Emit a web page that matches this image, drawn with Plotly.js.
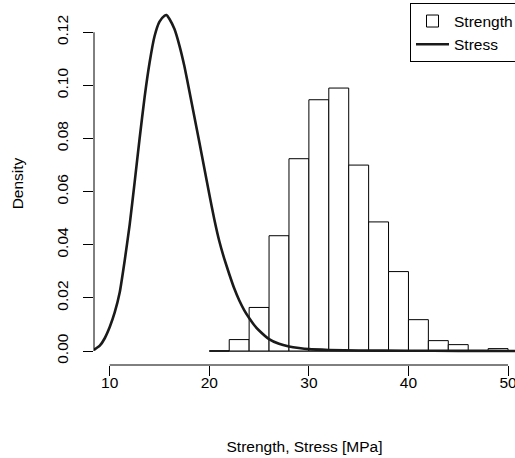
<!DOCTYPE html>
<html>
<head>
<meta charset="utf-8">
<script src="https://cdn.plot.ly/plotly-3.0.1.min.js"></script>
<style>html,body{margin:0;padding:0;background:#fff;}#chart{width:515px;height:458px;}</style>
</head>
<body>
<div id="chart"></div>
<script>
// Histogram of strength: bin edges and densities
const breaks = [20, 22, 24, 26, 28, 30, 32, 34, 36, 38, 40, 42, 44, 46, 48, 50];
const strengthDensity = [0.0, 0.0043, 0.0164, 0.0434, 0.0724, 0.0946, 0.0990, 0.0700, 0.0486, 0.0299, 0.0118, 0.0039, 0.0024, 0.0, 0.0009];

// Stress density curve
const stressX = [8.42, 9, 9.5, 10, 10.5, 11, 11.5, 12, 12.5, 13, 13.5, 14, 14.5, 15, 15.5, 15.7, 16, 16.5, 17, 17.5, 18, 18.5, 19, 19.5, 20, 20.5, 21, 21.5, 22, 22.5, 23, 23.5, 24, 24.5, 25, 26, 27, 28, 29, 30, 32, 35, 40, 45, 50, 52];
const stressY = [0.0004, 0.0020, 0.0048, 0.0090, 0.0145, 0.0220, 0.0340, 0.0475, 0.0635, 0.0800, 0.0955, 0.1085, 0.1185, 0.1240, 0.1262, 0.1265, 0.1250, 0.1212, 0.1150, 0.1072, 0.0978, 0.0882, 0.0786, 0.0688, 0.0590, 0.0496, 0.0414, 0.0348, 0.0290, 0.0236, 0.0191, 0.0154, 0.0124, 0.0098, 0.0077, 0.0045, 0.0027, 0.0017, 0.0011, 0.0007, 0.0004, 0.0002, 0.0001, 0.00005, 0.00002, 0.0];

const xTicks = [10, 20, 30, 40, 50];
const yTicks = [0.00, 0.02, 0.04, 0.06, 0.08, 0.10, 0.12];

const binMid = strengthDensity.map((_, i) => (breaks[i] + breaks[i + 1]) / 2);
const binWidth = strengthDensity.map((_, i) => breaks[i + 1] - breaks[i]);

const FONT = 'Liberation Sans, Arial, Helvetica, sans-serif';

const traces = [
  {
    type: 'bar', name: 'Strength', x: binMid, y: strengthDensity, width: binWidth,
    marker: {color: '#ffffff', line: {color: '#000000', width: 1}},
    hoverinfo: 'skip'
  },
  {
    type: 'scatter', mode: 'lines', name: 'Stress', x: stressX, y: stressY,
    line: {color: '#1a1a1a', width: 2.6, shape: 'spline', smoothing: 0.5},
    hoverinfo: 'skip'
  }
];

const layout = {
  width: 515, height: 458,
  margin: {l: 94, r: 0, t: 2, b: 93, autoexpand: false},
  paper_bgcolor: '#ffffff', plot_bgcolor: '#ffffff',
  font: {family: FONT, size: 15.5, color: '#000000'},
  bargap: 0,
  showlegend: true,
  legend: {
    x: 0.7506, xanchor: 'left', y: 0.996, yanchor: 'top',
    bordercolor: '#000000', borderwidth: 1, bgcolor: '#ffffff',
    font: {family: FONT, size: 15.5, color: '#000000'},
    itemwidth: 33,
    traceorder: 'normal'
  },
  xaxis: {
    range: [8.42, 50.70], showgrid: false, zeroline: false, showline: false,
    tickmode: 'array', tickvals: xTicks, ticktext: xTicks.map(String),
    ticks: 'outside', ticklen: 10, tickwidth: 1, tickcolor: '#000000',
    ticklabelstandoff: -7, ticklabeloverflow: 'allow',
    tickfont: {family: FONT, size: 15.5, color: '#000000'},
    title: {text: 'Strength, Stress [MPa]', font: {family: FONT, size: 15.5, color: '#000000'}, standoff: 51},
    automargin: false
  },
  yaxis: {
    range: [-0.00527, 0.1314], showgrid: false, zeroline: false, showline: false,
    tickmode: 'array', tickvals: yTicks, ticktext: yTicks.map(v => v.toFixed(2)),
    ticks: 'outside', ticklen: 10, tickwidth: 1, tickcolor: '#000000', tickangle: -90,
    ticklabelstandoff: 9,
    tickfont: {family: FONT, size: 15.5, color: '#000000'},
    title: {text: 'Density', font: {family: FONT, size: 15.5, color: '#000000'}, standoff: 26},
    automargin: false
  },
  shapes: [
    // x axis line spanning the tick range
    {type: 'line', xref: 'x', yref: 'paper', x0: xTicks[0], x1: xTicks[xTicks.length - 1], y0: 0, y1: 0,
     line: {color: '#000000', width: 1}},
    // y axis line spanning the tick range
    {type: 'line', xref: 'paper', yref: 'y', x0: 0, x1: 0, y0: yTicks[0], y1: yTicks[yTicks.length - 1],
     line: {color: '#000000', width: 1}},
    // histogram baseline across all bins
    {type: 'line', xref: 'x', yref: 'y', x0: breaks[0], x1: breaks[breaks.length - 1], y0: 0, y1: 0,
     line: {color: '#000000', width: 1.2}, layer: 'below'}
  ]
};

Plotly.newPlot('chart', traces, layout, {staticPlot: true, displayModeBar: false});
</script>
</body>
</html>
